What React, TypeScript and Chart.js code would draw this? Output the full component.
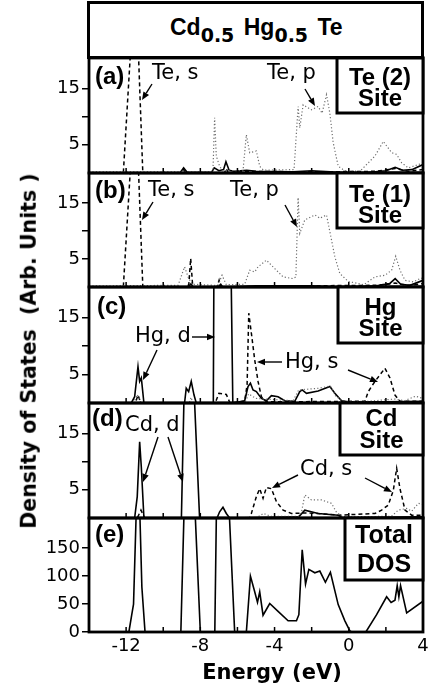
import React, { useEffect, useRef } from "react";
import { Chart, registerables } from "chart.js";

Chart.register(...registerables);

// ---------- axes ----------
const ENERGY_MIN = -14;
const ENERGY_MAX = 4;
const ENERGY_LABELS = [-12, -8, -4, 0, 4];
const ENERGY_MINOR = [-12, -10, -8, -6, -4, -2, 0, 2];
const SITE_TICKS = [5, 10, 15];
const SITE_LABELS = [5, 15];
const TOTAL_TICKS = [0, 50, 100, 150];
const SITE_MAX = 20.4;
const TOTAL_MAX = 204;

// ---------- (a) Te(2) site ----------
const te2S_E = [-14, -12.6, -12.15, -11.5, -11.1, -10.8, -9.0, -8.9, -8.8, -6.7, -6.6, -6.5, -5.5, -2.0, 1.5, 2.5, 3.2, 4];
const te2S_V = [0, 0, 0, 36, 0, 0, 0, 0.6, 0, 0, 0.8, 0, 0.3, 0.2, 0.3, 0.8, 0.3, 0.6];
const te2P_E = [-14, -7.6, -7.32, -7.23, -7.14, -6.96, -6.8, -5.7, -5.52, -5.34, -4.98, -4.8, -4.6, -2.95, -2.73, -2.64, -2.46, -2.01, -1.65, -1.44, -1.2, -1.02, -0.84, -0.57, -0.21, 0.6, 0.87, 1.41, 1.86, 2.31, 2.58, 2.85, 3.21, 3.75, 4];
const te2P_V = [0.2, 0.2, 0.3, 9.8, 3.0, 1.2, 0.4, 0.4, 6.8, 3.6, 3.9, 1.2, 0.5, 0.6, 11.8, 8.0, 12.1, 11.2, 11.8, 10.6, 13.9, 10.6, 5.4, 1.2, 0.4, 0.3, 1.2, 3.0, 5.6, 3.6, 3.3, 1.8, 0.9, 1.5, 1.8];
const te2D_E = [-14, -9.1, -8.9, -8.7, -7.4, -7.25, -7.0, -6.75, -6.62, -6.45, -6.2, -5.5, -5.0, -3.0, -2.0, -1.0, 0, 1.0, 2.0, 2.5, 2.9, 3.4, 4];
const te2D_V = [0, 0, 0.9, 0.1, 0.1, 0.9, 0.4, 0.6, 2.0, 0.5, 0.3, 0.5, 0.3, 0.2, 0.4, 0.2, 0, 0.1, 0.4, 1.0, 0.5, 0.6, 1.5];

// ---------- (b) Te(1) site ----------
const te1S_E = [-14, -12.6, -12.15, -11.5, -11.1, -10.8, -8.7, -8.62, -8.52, -8.42, -8.3, -7.1, -6.99, -6.9, -3, 1.5, 2.5, 3.2, 4];
const te1S_V = [0, 0, 0, 36, 0, 0, 0, 0.5, 5.1, 0.5, 0, 0, 1.2, 0, 0.2, 0.3, 0.7, 0.3, 0.6];
const te1P_E = [-14, -9.2, -8.85, -8.66, -8.45, -7.2, -7.04, -6.83, -6.6, -5.61, -5.34, -5.07, -4.89, -4.44, -3.99, -3.54, -3.0, -2.85, -2.73, -2.64, -2.37, -1.83, -1.56, -1.2, -1.02, -0.75, -0.48, -0.03, 0.8, 1.41, 1.95, 2.31, 2.53, 2.76, 3.03, 3.48, 3.84, 4];
const te1P_V = [0.2, 0.3, 3.6, 1.8, 0.5, 0.3, 0.4, 2.1, 0.4, 0.5, 3.0, 2.7, 3.6, 4.8, 3.3, 1.8, 1.5, 1.8, 16.0, 9.6, 12.0, 12.9, 12.3, 12.9, 9.9, 5.4, 2.4, 1.0, 0.4, 1.8, 2.1, 3.0, 5.5, 3.0, 1.2, 0.9, 1.5, 1.6];
const te1D_E = [-14, -8.65, -8.5, -8.4, -7.05, -6.9, -6.8, -5.0, -2.0, 0, 1.5, 2.2, 2.5, 2.8, 3.3, 4];
const te1D_V = [0, 0, 0.6, 0, 0, 0.5, 0, 0.2, 0.2, 0, 0.2, 0.6, 1.5, 0.5, 0.3, 1.2];

// ---------- (c) Hg site ----------
const hgD_E = [-14, -11.72, -11.54, -11.36, -11.27, -11.18, -11.04, -8.85, -8.76, -8.63, -8.49, -8.34, -8.22, -7.3, -7.22, -6.9, -6.45, -6.25, -5.61, -5.43, -5.3, -5.16, -4.98, -4.71, -4.44, -4.17, -3.81, -3.45, -2.91, -2.64, -2.51, -2.28, -1.65, -1.02, -0.75, -0.39, -0.03, 2.0, 4];
const hgD_V = [0, 0, 1.1, 6.4, 3.8, 4.4, 0, 0, 2.6, 2.0, 3.8, 1.4, 0, 0, 60, 90, 50, 0, 0.4, 2.9, 3.5, 2.3, 2.0, 0.8, 0.4, 1.3, 1.1, 0.4, 0.3, 2.0, 2.3, 1.7, 2.1, 2.9, 1.7, 0.4, 0.2, 0.2, 0.3];
const hgS_E = [-14, -11.5, -11.36, -11.2, -7.2, -7.0, -6.6, -6.4, -5.61, -5.48, -5.39, -5.25, -5.07, -4.89, -4.71, -4.44, 0.87, 1.05, 1.41, 1.95, 2.22, 2.49, 2.76, 4];
const hgS_V = [0, 0, 1.4, 0, 0, 1.7, 1.5, 0, 0.3, 3.2, 15.8, 12.3, 7.6, 3.8, 1.1, 0.2, 0.3, 2.0, 3.8, 6.1, 4.4, 1.4, 0.3, 0.3];
const hgP_E = [-14, -11.6, -11.4, -11.2, -8.6, -8.5, -8.4, -5.6, -5.4, -5.0, -3.0, -2.7, -2.3, -1.6, -1.0, -0.7, -0.3, 1.0, 2.5, 3.0, 3.6, 4];
const hgP_V = [0, 0, 1.5, 0, 0, 1.0, 0, 0, 1.6, 0.8, 0.4, 2.3, 2.4, 2.6, 3.0, 1.2, 0.3, 0.3, 0.7, 0.4, 1.2, 0.8];

// ---------- (d) Cd site ----------
const cdD_E = [-14, -11.54, -11.4, -11.27, -11.18, -11.04, -9.02, -8.85, -8.7, -8.5, -8.04, -7.1, -6.96, -6.78, -6.6, -6.42, -2.7, -2.37, -1.65, -0.57, -0.3, 4];
const cdD_V = [0, 0, 3.8, 13.5, 9.0, 0, 0, 26, 45, 35, 0, 0, 1.1, 1.9, 0.8, 0, 0.2, 1.4, 0.8, 0.5, 0, 0.2];
const cdS_E = [-14, -11.4, -11.2, -11.0, -5.34, -5.25, -4.98, -4.8, -4.62, -4.44, -4.17, -3.9, -3.54, -3.09, -2.37, -1.65, -0.57, 1.41, 1.77, 2.13, 2.4, 2.58, 2.76, 3.03, 3.39, 4];
const cdS_V = [0, 0, 1.4, 0, 0, 0.8, 3.8, 5.2, 3.5, 5.4, 5.2, 2.9, 1.4, 0.8, 0.9, 0.8, 0.5, 0.8, 1.4, 2.3, 4.9, 8.8, 5.2, 1.4, 0.5, 0.5];
const cdP_E = [-14, -5.0, -4.6, -4.2, -2.7, -2.55, -2.37, -2.01, -1.47, -0.93, -0.66, -0.3, 2.3, 2.67, 3.12, 3.39, 3.75, 4];
const cdP_V = [0, 0, 0.8, 0.3, 0.3, 1.0, 4.1, 3.2, 3.2, 2.6, 1.0, 0.2, 0.3, 1.4, 1.7, 1.2, 2.6, 2.4];

// ---------- (e) total DOS ----------
const totE = [-14, -11.85, -11.7, -11.6, -11.45, -11.35, -11.25, -11.15, -10.98, -9.05, -8.85, -8.7, -8.5, -8.0, -7.22, -7.12, -6.9, -6.6, -6.15, -5.52, -5.3, -5.07, -4.92, -4.8, -4.62, -4.26, -3.81, -3.27, -2.82, -2.69, -2.51, -2.33, -2.15, -1.83, -1.56, -1.26, -0.99, -0.57, -0.21, 0.06, 0.15, 0.92, 1.5, 2.04, 2.28, 2.49, 2.61, 2.7, 2.79, 3.12, 4];
const totV = [0, 0, 30, 50, 220, 320, 200, 80, 0, 0, 250, 430, 380, 0, 0, 250, 430, 330, 0, 0, 100, 72, 53, 72, 30, 51, 37, 20, 20, 31, 147, 86, 112, 106, 109, 89, 107, 49, 20, 2, 0, 0, 31, 63, 53, 57, 83, 63, 83, 34, 55];

// ---------- layout ----------
const W = 434;
const AXIS_W = 89;
const RIGHT_PAD = 11;
const PAD = 16;
const X_AXIS_H = 62;
const SANS = '"DejaVu Sans", sans-serif';
const HELV = '"Liberation Sans", Arial, sans-serif';

type Kind = "d" | "s" | "p";
interface Series { E: number[]; V: number[]; kind: Kind }
interface Note { text: string; dx: number; dy: number }
interface PanelDef {
  top: number;
  bottom: number;
  yMax: number;
  yTicks: number[];
  yLabels: number[];
  series: Series[];
  tag: string;
  tagAt: [number, number];
  notes: Note[];
  arrows: number[][];
  box: { x0: number; h: number; lines: string[]; dys: number[]; size: number };
  last?: boolean;
}

const LINE_STYLE: Record<Kind, any> = {
  d: { borderColor: "#000", borderWidth: 1.6, borderDash: [] },
  s: { borderColor: "#000", borderWidth: 1.5, borderDash: [4, 3] },
  p: { borderColor: "#6e6e6e", borderWidth: 1.2, borderDash: [1.2, 2.2] },
};

const PANELS: PanelDef[] = [
  {
    top: 58, bottom: 173, yMax: SITE_MAX, yTicks: SITE_TICKS, yLabels: SITE_LABELS,
    series: [
      { E: te2P_E, V: te2P_V, kind: "p" },
      { E: te2S_E, V: te2S_V, kind: "s" },
      { E: te2D_E, V: te2D_V, kind: "d" },
    ],
    tag: "(a)", tagAt: [6, 19],
    notes: [{ text: "Te, s", dx: 63, dy: 16 }, { text: "Te, p", dx: 178, dy: 16 }],
    arrows: [[63, 26, 53, 42], [216, 31, 226, 48]],
    box: { x0: 248, h: 55, lines: ["Te (2)", "Site"], dys: [20, 41], size: 24 },
  },
  {
    top: 173, bottom: 287, yMax: SITE_MAX, yTicks: SITE_TICKS, yLabels: SITE_LABELS,
    series: [
      { E: te1P_E, V: te1P_V, kind: "p" },
      { E: te1S_E, V: te1S_V, kind: "s" },
      { E: te1D_E, V: te1D_V, kind: "d" },
    ],
    tag: "(b)", tagAt: [6, 18],
    notes: [{ text: "Te, s", dx: 59, dy: 18 }, { text: "Te, p", dx: 141, dy: 18 }],
    arrows: [[64, 29, 53, 47], [196, 32, 208, 54]],
    box: { x0: 248, h: 55, lines: ["Te (1)", "Site"], dys: [22, 43], size: 24 },
  },
  {
    top: 287, bottom: 403, yMax: SITE_MAX, yTicks: SITE_TICKS, yLabels: SITE_LABELS,
    series: [
      { E: hgP_E, V: hgP_V, kind: "p" },
      { E: hgS_E, V: hgS_V, kind: "s" },
      { E: hgD_E, V: hgD_V, kind: "d" },
    ],
    tag: "(c)", tagAt: [8, 20],
    notes: [{ text: "Hg, d", dx: 46, dy: 50 }, { text: "Hg, s", dx: 196, dy: 76 }],
    arrows: [[103, 50, 126, 50], [68, 63, 54, 93], [193, 75, 168, 75], [259, 83, 289, 95]],
    box: { x0: 249, h: 56, lines: ["Hg", "Site"], dys: [21, 42], size: 24 },
  },
  {
    top: 403, bottom: 518, yMax: SITE_MAX, yTicks: SITE_TICKS, yLabels: SITE_LABELS,
    series: [
      { E: cdP_E, V: cdP_V, kind: "p" },
      { E: cdS_E, V: cdS_V, kind: "s" },
      { E: cdD_E, V: cdD_V, kind: "d" },
    ],
    tag: "(d)", tagAt: [3, 16],
    notes: [{ text: "Cd, d", dx: 36, dy: 23 }, { text: "Cd, s", dx: 211, dy: 67 }],
    arrows: [[69, 34, 54, 79], [79, 34, 94, 79], [209, 72, 183, 85], [276, 75, 303, 89]],
    box: { x0: 251, h: 52, lines: ["Cd", "Site"], dys: [16, 38], size: 24 },
  },
  {
    top: 518, bottom: 632, yMax: TOTAL_MAX, yTicks: TOTAL_TICKS, yLabels: TOTAL_TICKS,
    series: [{ E: totE, V: totV, kind: "d" }],
    tag: "(e)", tagAt: [6, 17],
    notes: [],
    arrows: [],
    box: { x0: 256, h: 62, lines: ["Total", "DOS"], dys: [18, 47], size: 25 },
    last: true,
  },
];

function drawArrow(ctx: CanvasRenderingContext2D, x1: number, y1: number, x2: number, y2: number) {
  const ang = Math.atan2(y2 - y1, x2 - x1);
  const L = 8;
  const H = 3.3;
  const bx = x2 - L * Math.cos(ang);
  const by = y2 - L * Math.sin(ang);
  ctx.beginPath();
  ctx.moveTo(x1, y1);
  ctx.lineTo(bx, by);
  ctx.stroke();
  ctx.beginPath();
  ctx.moveTo(x2, y2);
  ctx.lineTo(bx + H * Math.sin(ang), by - H * Math.cos(ang));
  ctx.lineTo(bx - H * Math.sin(ang), by + H * Math.cos(ang));
  ctx.closePath();
  ctx.fill();
}

// frame, inward energy ticks, site box and annotations of one panel
function makeDecor(p: PanelDef) {
  return {
    id: "panelDecor",
    afterDraw(chart: any) {
      const { ctx, chartArea: a } = chart;
      const xs = chart.scales.x;
      ctx.save();
      ctx.strokeStyle = "#000";
      ctx.fillStyle = "#000";

      ctx.lineWidth = 1.5;
      for (const e of ENERGY_MINOR) {
        const px = xs.getPixelForValue(e);
        ctx.beginPath();
        ctx.moveTo(px, a.bottom);
        ctx.lineTo(px, a.bottom - 5);
        ctx.stroke();
      }

      ctx.lineWidth = 2.8;
      ctx.strokeRect(a.left, a.top, a.right - a.left, a.bottom - a.top);

      const bx = a.left + p.box.x0;
      const bw = a.right - bx;
      ctx.fillStyle = "#fff";
      ctx.fillRect(bx, a.top, bw, p.box.h);
      ctx.lineWidth = 3;
      ctx.strokeRect(bx, a.top, bw, p.box.h);
      ctx.fillStyle = "#000";
      ctx.font = `bold ${p.box.size}px ${HELV}`;
      ctx.textAlign = "center";
      ctx.textBaseline = "middle";
      p.box.lines.forEach((t, i) => ctx.fillText(t, bx + bw / 2, a.top + p.box.dys[i]));

      ctx.textAlign = "left";
      ctx.font = `bold 24px ${HELV}`;
      ctx.fillText(p.tag, a.left + p.tagAt[0], a.top + p.tagAt[1]);

      ctx.font = `21px ${SANS}`;
      for (const n of p.notes) ctx.fillText(n.text, a.left + n.dx, a.top + n.dy);

      ctx.lineWidth = 1.4;
      for (const [x1, y1, x2, y2] of p.arrows) {
        drawArrow(ctx, a.left + x1, a.top + y1, a.left + x2, a.top + y2);
      }
      ctx.restore();
    },
  };
}

function Panel({ def }: { def: PanelDef }) {
  const ref = useRef<HTMLCanvasElement>(null);
  const canvasTop = def.top - PAD;
  const height = def.bottom - def.top + PAD + (def.last ? X_AXIS_H : PAD);

  useEffect(() => {
    if (!ref.current) return;
    const chart = new Chart(ref.current, {
      type: "line",
      data: {
        datasets: def.series.map((s) => ({
          data: s.E.map((e, i) => ({ x: e, y: s.V[i] })),
          ...LINE_STYLE[s.kind],
          pointRadius: 0,
          tension: 0,
          fill: false,
          clip: 0,
        })),
      },
      options: {
        animation: false,
        responsive: false,
        devicePixelRatio: 1,
        events: [],
        layout: { padding: { top: PAD, bottom: def.last ? 0 : PAD, left: 0, right: RIGHT_PAD } },
        plugins: { legend: { display: false }, tooltip: { enabled: false } },
        scales: {
          x: {
            type: "linear",
            min: ENERGY_MIN,
            max: ENERGY_MAX,
            display: !!def.last,
            grid: { display: false, drawTicks: false },
            border: { display: false },
            ticks: {
              stepSize: 2,
              autoSkip: false,
              maxRotation: 0,
              padding: 4,
              color: "#000",
              font: { family: SANS, size: 18 },
              callback: (v: any) => (ENERGY_LABELS.includes(Number(v)) ? String(v) : ""),
            },
            afterFit: (s: any) => {
              if (def.last) s.height = X_AXIS_H;
            },
          },
          y: {
            type: "linear",
            min: 0,
            max: def.yMax,
            afterBuildTicks: (s: any) => {
              s.ticks = def.yTicks.map((v) => ({ value: v }));
            },
            grid: { drawOnChartArea: false, drawTicks: true, tickLength: 7, color: "#000", lineWidth: 1.5 },
            border: { display: false },
            ticks: {
              padding: 2,
              color: "#000",
              font: { family: SANS, size: 18 },
              callback: (v: any) => (def.yLabels.includes(Number(v)) ? String(v) : ""),
            },
            afterFit: (s: any) => {
              s.width = AXIS_W;
            },
          },
        },
      } as any,
      plugins: [makeDecor(def)],
    });
    return () => chart.destroy();
  }, [def]);

  return (
    <canvas
      ref={ref}
      width={W}
      height={height}
      style={{ position: "absolute", left: 0, top: canvasTop, width: W, height }}
    />
  );
}

const subStyle: React.CSSProperties = {
  font: `bold 19px ${SANS}`,
  verticalAlign: "-7px",
  marginRight: 3,
};

export default function App() {
  return (
    <div
      style={{
        position: "absolute",
        left: 0,
        top: 0,
        width: W,
        height: 694,
        overflow: "hidden",
        background: "#fff",
        color: "#000",
      }}
    >
      <div
        style={{
          position: "absolute",
          left: 87,
          top: 1,
          width: 337,
          height: 58,
          border: "3px solid #000",
          boxSizing: "border-box",
        }}
      >
        <div
          style={{
            position: "absolute",
            left: 80,
            top: 12,
            font: `bold 23px ${HELV}`,
            lineHeight: "23px",
            whiteSpace: "nowrap",
          }}
        >
          Cd<span style={subStyle}>0.5</span> Hg<span style={subStyle}>0.5</span> Te
        </div>
      </div>

      {PANELS.map((p) => (
        <Panel key={p.tag} def={p} />
      ))}

      <div
        style={{
          position: "absolute",
          left: 29,
          top: 351,
          transform: "translate(-50%, -50%) rotate(-90deg)",
          font: `bold 20.5px ${SANS}`,
          lineHeight: "20.5px",
          whiteSpace: "pre",
        }}
      >
        Density of States  (Arb. Units )
      </div>

      <div
        style={{
          position: "absolute",
          left: 272,
          top: 662,
          transform: "translateX(-50%)",
          font: `bold 21px ${SANS}`,
          lineHeight: "21px",
          whiteSpace: "nowrap",
        }}
      >
        Energy (eV)
      </div>
    </div>
  );
}
